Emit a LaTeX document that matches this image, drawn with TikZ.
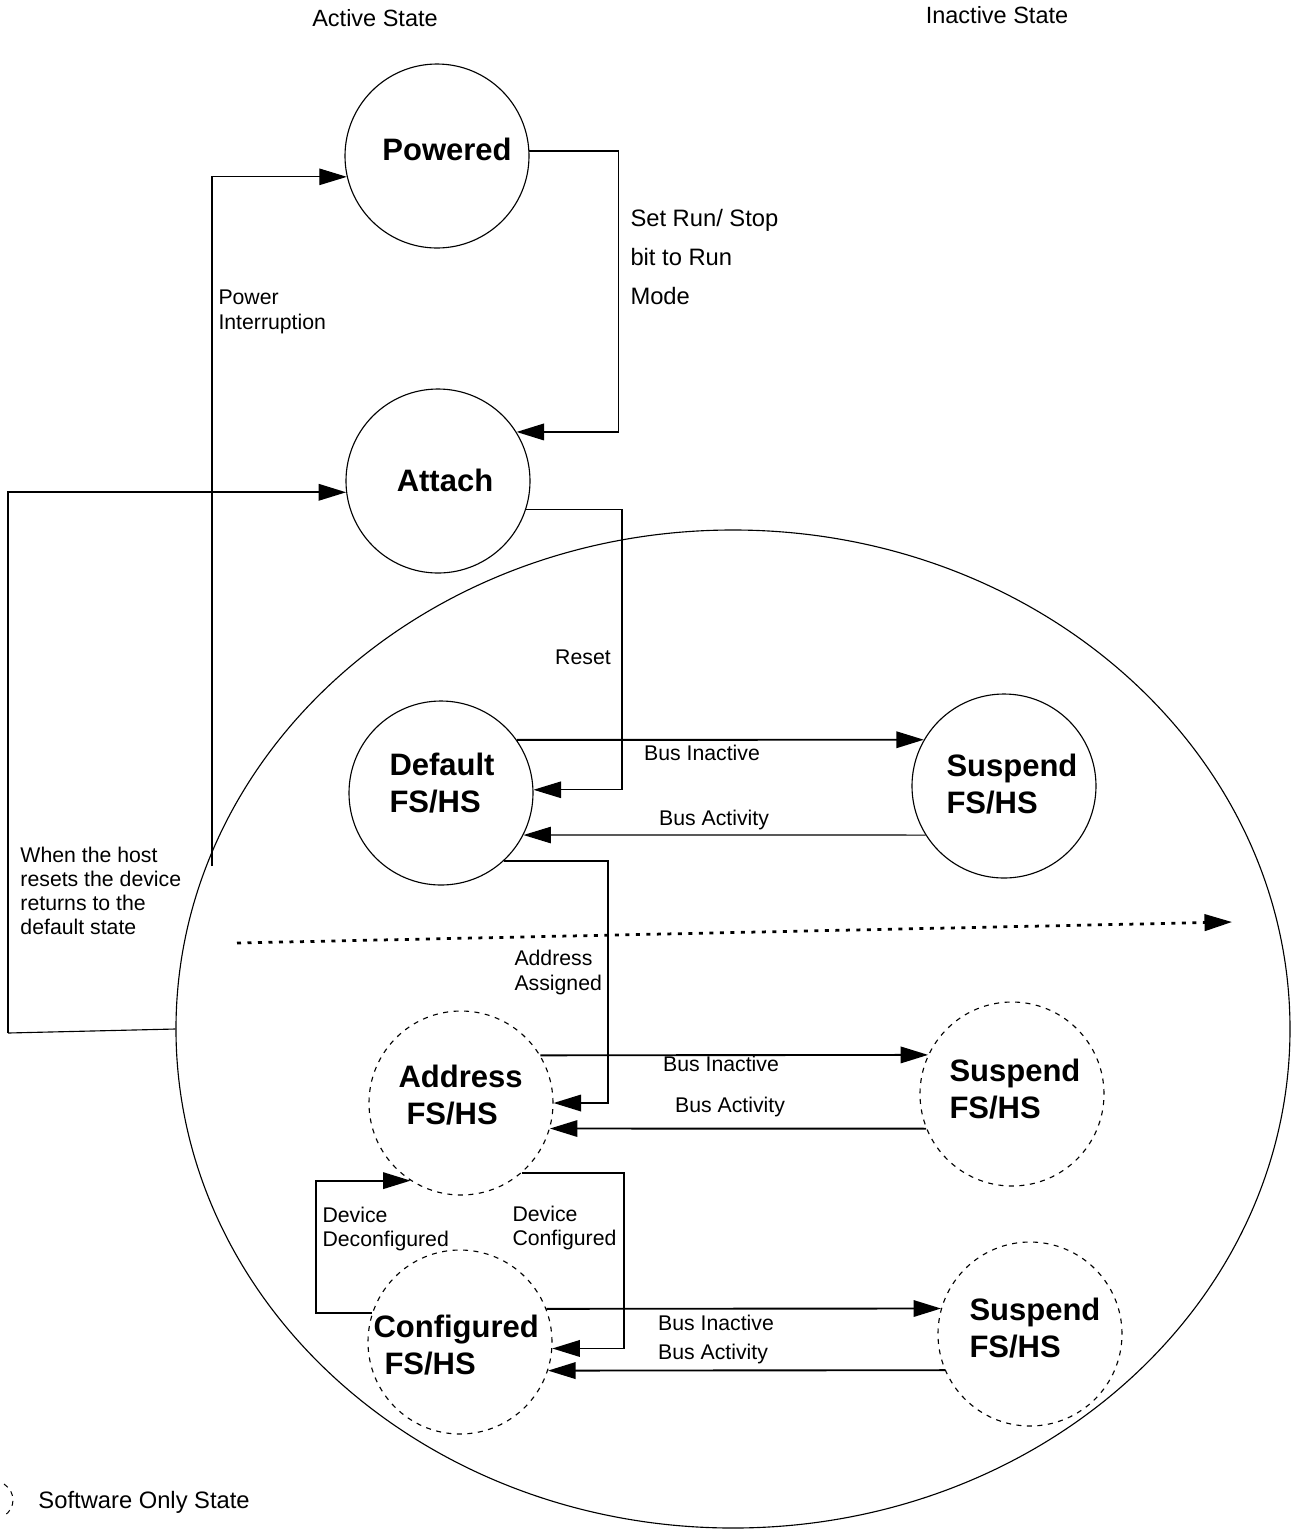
\documentclass[tikz,border=0pt]{standalone}
\usepackage{fontspec}
\setmainfont{Liberation Sans}
\usetikzlibrary{arrows.meta,shapes.geometric}

\tikzset{
  state/.style={circle, draw, line width=0.45pt, minimum size=73.6pt, inner sep=0pt},
  swstate/.style={state, dash pattern=on 2pt off 2.2pt},
  stname/.style={inner sep=0pt, font=\fontsize{12.4}{14.6}\selectfont\bfseries, align=left},
  lbl/.style={inner sep=0pt, font=\fontsize{8.5}{9.7}\selectfont, align=left},
  flow/.style={->, line width=0.75pt},
  thinflow/.style={->, line width=0.45pt},
}

\begin{document}
\begin{tikzpicture}[x=0.4pt, y=-0.4pt, >={Triangle[length=11pt,width=6.6pt]}]
  \useasboundingbox (0,0) rectangle (1297,1529);
  % column headings
  \node[lbl, font=\fontsize{9.4}{11}\selectfont] (hd-act) at (375,18) {Active State};
  \node[lbl, font=\fontsize{9.4}{11}\selectfont] (hd-inact) at (997,15) {Inactive State};
  % region of the bus states
  \node[draw, ellipse, line width=0.45pt, minimum width=445.6pt, minimum height=399.2pt, inner sep=0pt] (zone) at (733,1029) {};
  % states
  \node[state] (pow) at (437,156) {};
  \node[stname] (pow-t) at (447,149) {Powered};
  \node[state] (att) at (438,481) {};
  \node[stname] (att-t) at (445,480) {Attach};
  \node[state] (def) at (441,793) {};
  \node[stname, anchor=west] (def-t) at (389,783) {Default\\FS/HS};
  \node[state] (susA) at (1004,786) {};
  \node[stname, anchor=west] (susA-t) at (946,784) {Suspend\\FS/HS};
  \node[swstate] (adr) at (461,1103) {};
  \node[stname, anchor=west] (adr-t) at (398,1095) {Address\\\hspace*{3.2pt}FS/HS};
  \node[swstate] (susB) at (1012,1094) {};
  \node[stname, anchor=west] (susB-t) at (949,1089) {Suspend\\FS/HS};
  \node[swstate] (cfg) at (460,1342) {};
  \node[stname, anchor=west] (cfg-t) at (373,1345) {Configured\\\hspace*{4.4pt}FS/HS};
  \node[swstate] (susC) at (1030,1334) {};
  \node[stname, anchor=west] (susC-t) at (969,1328) {Suspend\\FS/HS};
  % transitions
  \draw[flow] (pow.3) -- ++(89,0) |- (att.32);
  \coordinate (pi) at (212,866);
  \draw[thinflow] (pi) |- (pow.193);
  \coordinate (hr) at (8,1033);
  \draw[flow] (hr) |- (att.187);
  \draw[line width=0.45pt] (hr) -- (zone.west);
  \draw[thinflow] (att.-18) -- ++(96,0) |- (def.2);
  \draw[flow] (def.35) -- (susA.150);
  \draw[thinflow] (susA.212) -- (def.-27);
  \draw[flow] (def.-47) -- ++(104,0) |- (adr.east);
  \draw[flow] (adr.31) -- (susB.155);
  \draw[flow] (susB.202) -- (adr.-16);
  \draw[flow] (adr.-49) -- ++(102,0) |- (cfg.-4);
  \draw[flow] (cfg.162) -- ++(-56,0) |- (adr.237);
  \draw[flow] (cfg.21) -- (susC.164);
  \draw[flow] (susC.203) -- (cfg.-18);
  % divider between the two bus states
  \coordinate (dv-a) at (237,943);
  \coordinate (dv-b) at (1232,922);
  \draw[->, line width=1.1pt, dash pattern=on 1.6pt off 2.6pt] (dv-a) -- (dv-b);
  % labels
  \node[lbl, anchor=west, font=\fontsize{9.5}{15.4}\selectfont] (run-l) at (630,257) {Set Run/ Stop\\bit to Run\\Mode};
  \node[lbl, anchor=west, font=\fontsize{8.5}{10}\selectfont] (pi-l) at (218,312) {Power\\Interruption};
  \node[lbl] (rst-l) at (583,657) {Reset};
  \node[lbl] (bi-a) at (702,753) {Bus Inactive};
  \node[lbl] (ba-a) at (714,820) {Bus Activity};
  \node[lbl, anchor=west, font=\fontsize{8.5}{10}\selectfont] (aa-l) at (514,972) {Address\\Assigned};
  \node[lbl] (bi-b) at (721,1064) {Bus Inactive};
  \node[lbl] (ba-b) at (730,1107) {Bus Activity};
  \node[lbl, anchor=west] (dc-l) at (512,1228) {Device\\Configured};
  \node[lbl, anchor=west] (dd-l) at (322,1229) {Device\\Deconfigured};
  \node[lbl] (bi-c) at (716,1323) {Bus Inactive};
  \node[lbl] (ba-c) at (713,1354) {Bus Activity};
  \node[lbl, anchor=west] (hr-l) at (20,891) {When the host\\resets the device\\returns to the\\default state};
  % legend
  \draw[line width=0.4pt, dash pattern=on 2pt off 2pt] (4,1484) .. controls (16,1492) and (16,1508) .. (4,1516);
  \node[lbl, anchor=west, font=\fontsize{9.5}{11}\selectfont] (lg-t) at (38,1502) {Software Only State};
\end{tikzpicture}
\end{document}
